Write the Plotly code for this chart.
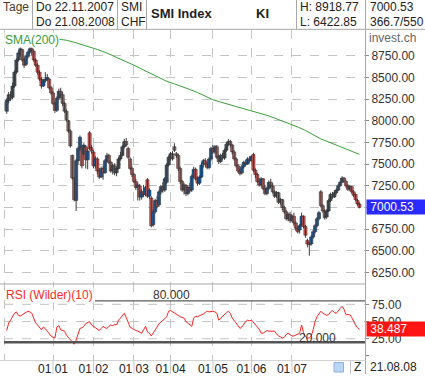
import plotly.graph_objects as go

W, H = 425, 376
def px(x): return x / W
def py(y): return 1 - y / H

# ---------------- data ----------------
opens = [8110,8230,8300,8270,8400,8560,8700,8780,8820,8700,
         8650,8740,8790,8830,8800,8700,8640,8560,8480,8400,
         8460,8480,8480,8380,8320,8200,8120,8260,8340,8300,
         8200,8110,8000,7880,7600,7340,7080,7540,7680,7700,
         7620,7700,7550,7860,7690,7640,7480,7560,7420,7350,
         7450,7400,7540,7600,7520,7420,7480,7400,7450,7560,
         7600,7700,7760,7680,7560,7450,7380,7300,7230,7250,
         7120,7180,7150,7320,7130,7110,6800,6950,7080,7030,
         7180,7240,7200,7290,7490,7580,7620,7700,7620,7600,
         7450,7300,7200,7250,7160,7230,7200,7360,7440,7330,
         7280,7350,7500,7540,7500,7460,7560,7680,7640,7700,
         7580,7530,7600,7570,7660,7730,7760,7720,7640,7560,
         7480,7420,7400,7470,7520,7500,7560,7540,7610,7430,
         7380,7300,7260,7330,7220,7160,7220,7290,7250,7180,
         7130,7170,7060,7090,7000,6950,6870,6920,6850,6900,
         6820,6760,6740,6790,6900,6780,6620,6590,6580,6660,
         6720,6790,6870,7180,7020,6960,6890,6960,7080,7150,
         7120,7170,7200,7250,7290,7340,7300,7250,7210,7240,
         7180,7150,7080,7040]
highs = [8260,8330,8340,8440,8580,8720,8810,8850,8830,8720,
         8760,8810,8870,8860,8820,8720,8660,8580,8500,8480,
         8560,8540,8490,8400,8340,8220,8280,8370,8380,8330,
         8220,8130,8010,7900,7610,7350,7560,7700,7830,7720,
         7740,7720,7680,7880,7720,7660,7590,7580,7450,7470,
         7480,7560,7630,7620,7540,7500,7510,7470,7580,7640,
         7720,7790,7800,7700,7580,7470,7400,7330,7290,7270,
         7210,7260,7250,7340,7220,7130,6980,7100,7130,7200,
         7260,7290,7350,7510,7600,7640,7650,7740,7640,7620,
         7470,7320,7280,7270,7260,7280,7380,7470,7460,7360,
         7370,7520,7560,7570,7520,7580,7700,7720,7720,7720,
         7610,7620,7630,7680,7750,7790,7780,7730,7660,7580,
         7500,7450,7490,7540,7550,7580,7590,7600,7630,7450,
         7400,7340,7350,7340,7260,7240,7310,7330,7280,7200,
         7190,7180,7110,7100,7020,6970,6940,6950,6920,6940,
         6840,6790,6810,6940,6910,6800,6640,6600,6680,6740,
         6810,6890,6960,7200,7040,6980,6980,7100,7170,7180,
         7200,7220,7270,7310,7360,7350,7320,7270,7260,7250,
         7200,7160,7100,7060]
lows = [8080,8200,8230,8250,8380,8540,8680,8740,8680,8610,
        8630,8720,8770,8750,8680,8620,8530,8460,8370,8390,
        8440,8460,8360,8300,8180,8090,8100,8240,8260,8170,
        8090,7990,7860,7690,7320,7070,6960,7500,7650,7450,
        7600,7450,7440,7660,7620,7450,7450,7380,7330,7340,
        7320,7390,7520,7500,7400,7380,7370,7360,7440,7540,
        7590,7680,7700,7560,7430,7350,7280,7200,7080,7080,
        7090,7120,7130,7110,7100,6770,6780,6930,6990,7010,
        7150,7170,7180,7270,7470,7540,7540,7640,7570,7420,
        7270,7180,7150,7130,7140,7170,7180,7340,7310,7250,
        7260,7340,7460,7470,7440,7440,7540,7620,7620,7560,
        7500,7510,7550,7550,7640,7710,7690,7610,7540,7460,
        7400,7370,7380,7450,7480,7490,7520,7530,7410,7340,
        7280,7240,7240,7200,7140,7140,7200,7230,7160,7110,
        7110,7040,7030,6970,6930,6850,6840,6820,6830,6790,
        6730,6700,6700,6780,6760,6650,6540,6445,6560,6640,
        6700,6770,6850,7000,6940,6860,6870,6950,7060,7100,
        7110,7150,7190,7240,7280,7290,7230,7190,7190,7160,
        7120,7070,7020,6990]
closes = [8235,8300,8260,8400,8560,8700,8780,8830,8700,8640,
          8740,8790,8830,8810,8700,8640,8560,8480,8400,8460,
          8480,8500,8380,8320,8200,8120,8260,8340,8300,8200,
          8110,8010,7880,7710,7340,7090,7540,7680,7810,7480,
          7720,7550,7650,7680,7650,7480,7560,7420,7350,7450,
          7400,7540,7600,7520,7420,7480,7400,7450,7560,7600,
          7700,7760,7720,7580,7450,7380,7300,7230,7260,7120,
          7180,7150,7230,7130,7200,6790,6950,7080,7010,7180,
          7240,7200,7330,7490,7580,7620,7560,7660,7600,7450,
          7300,7200,7260,7160,7230,7190,7360,7440,7330,7280,
          7350,7490,7540,7500,7460,7560,7680,7640,7700,7580,
          7530,7600,7570,7660,7730,7760,7720,7640,7560,7480,
          7420,7390,7470,7520,7500,7560,7540,7590,7430,7380,
          7300,7260,7330,7220,7160,7220,7290,7250,7180,7130,
          7170,7060,7090,7000,6950,6870,6920,6850,6900,6820,
          6760,6720,6790,6900,6780,6680,6580,6570,6660,6720,
          6790,6870,6940,7020,6960,6880,6960,7080,7150,7120,
          7170,7200,7250,7290,7340,7310,7250,7210,7240,7180,
          7140,7090,7040,7000.53]
rsi = [37,48,52,57,62,64,59,58,60,62,
       64,65,64,62,55,48,45,42,38,42,
       40,36,32,29,27,26,42,44,38,37,
       36,30,27,23,20,17,23,33,40,41,
       43,47,49,50,45,43,41,39,37,40,
       43,41,40,43,45,44,46,45,52,55,
       59,62,56,49,42,40,38,37,36,34,
       33,38,43,35,33,29,33,37,42,47,
       49,52,54,57,65,66,64,62,61,58,
       57,56,55,50,48,45,43,55,58,57,
       58,60,61,63,65,64,65,65,64,62,
       52,55,57,60,63,65,62,55,52,48,
       44,40,42,46,50,52,51,52,49,46,
       42,39,33,33,35,37,36,36,37,36,
       32,29,28,26,27,31,33,31,29,29,
       30,32,33,45,34,28,26,26,29,38,
       50,57,61,65,62,60,59,60,64,66,
       63,62,66,69,72,68,60,60,60,56,
       50,45,41,38.487]
sma_idx = [27,31,35,39,43,47,51,55,59,63,67,71,75,79,83,87,91,95,99,103,
           107,111,115,119,123,127,131,135,139,143,147,151,155,159,163,167,171,175,179,183]
sma_vals = [8940,8928,8905,8880,8852,8822,8790,8750,8715,8675,8630,8585,8540,8495,8455,
            8425,8395,8360,8325,8285,8242,8215,8190,8160,8135,8108,8085,8062,8030,7998,
            7965,7928,7888,7840,7790,7755,7720,7690,7655,7612]
month_idx = [24, 45, 66, 85, 107, 127, 148]
month_labels = ["01 01", "01 02", "01 03", "01 04", "01 05", "01 06", "01 07"]
price_ticks = [6250, 6500, 6750, 7000, 7250, 7500, 7750, 8000, 8250, 8500, 8750]
rsi_ticks = [0, 25, 50, 75]
rsi_tick_labels = ["", "25.00", "50.00", "75.00"]

days = list(range(len(closes)))
FONT = "Liberation Sans, Arial, sans-serif"
GRID = "#c4c4c4"
BORDER = "#a8a8a8"
UP = "#1c62aa"
DOWN = "#d65f5c"

# candle parts derived from OHLC lists
wick_x, wick_y = [], []
for d, h, l in zip(days, highs, lows):
    wick_x += [d, d, None]
    wick_y += [l, h, None]
body_base = [min(o, c) for o, c in zip(opens, closes)]
body_len = [max(abs(c - o), 6) for o, c in zip(opens, closes)]
body_col = [UP if c >= o else DOWN for o, c in zip(opens, closes)]

fig = go.Figure()
fig.add_trace(go.Scatter(x=wick_x, y=wick_y, mode="lines", line=dict(color="#3a3a3a", width=1),
                         xaxis="x", yaxis="y", showlegend=False, hoverinfo="skip"))
fig.add_trace(go.Bar(x=days, y=body_len, base=body_base, width=1.65,
                     marker=dict(color=body_col, line=dict(color="#1a1a1a", width=0.5)),
                     xaxis="x", yaxis="y", showlegend=False, hoverinfo="skip"))
fig.add_trace(go.Scatter(x=sma_idx, y=sma_vals, mode="lines",
                         line=dict(color="#3aa03a", width=1), xaxis="x", yaxis="y",
                         showlegend=False, hoverinfo="skip"))
fig.add_trace(go.Scatter(x=days, y=rsi, mode="lines",
                         line=dict(color="#ff2020", width=1), xaxis="x2", yaxis="y2",
                         showlegend=False, hoverinfo="skip"))

xdom = [px(4), px(365)]
xr = [-1.43, 185.9]
shapes = []
def line(x0, y0, x1, y1, color=BORDER, width=1, dash="solid", xref="paper", yref="paper", layer="above"):
    shapes.append(dict(type="line", x0=x0, y0=y0, x1=x1, y1=y1, xref=xref, yref=yref,
                       line=dict(color=color, width=width, dash=dash), layer=layer))

# header grid
line(0, py(29.5), 1, py(29.5))
for xv in [32.5, 117.5, 146.5, 296.5, 365.5]:
    line(px(xv), py(0), px(xv), py(29.5))
# right axis line
line(px(365.5), py(29.5), px(365.5), 0)
# panel separator
line(0, py(285.5), px(365.5), py(285.5))
# label row separator
line(0, py(362.5), px(365.5), py(362.5), color="#d0d0d0")
# left dashed border
line(px(4.5), py(30), px(4.5), py(362), color=GRID, dash="dash", layer="below")
# month lines through label row
for m in month_idx:
    line(m, py(362), m, 0, color="#c8c8c8", xref="x", layer="above")
# RSI gridlines
for v in [25, 50, 75]:
    line(xdom[0], v, xdom[1], v, color=GRID, dash="dash", yref="y2", layer="below")
# 80 and 20 lines
line(px(95), 80, xdom[1], 80, color="#333333", width=1, yref="y2")
line(xdom[0], 20, xdom[1], 20, color="#555555", width=2.5, yref="y2")
# bottom widgets
shapes.append(dict(type="rect", x0=px(334), x1=px(343.5), y0=py(374), y1=py(364.5),
                   xref="paper", yref="paper", fillcolor="#b8d6f6",
                   line=dict(color="#8fb0d8", width=1)))
line(px(350.5), py(362.5), px(350.5), 0, color="#c0c0c0")

ann = []
def text(x, y, s, size=12, color="#222222", bold=False, xanchor="left", bg=None, width=None, height=None):
    d = dict(x=px(x), y=py(y), xref="paper", yref="paper", text=f"<b>{s}</b>" if bold else s,
             showarrow=False, xanchor=xanchor, yanchor="middle",
             font=dict(family=FONT, size=size, color=color), borderpad=0)
    if bg:
        d["bgcolor"] = bg
    if width:
        d["width"] = width
        d["align"] = "left"
    if height:
        d["height"] = height
    ann.append(d)

text(1.5, 7.5, "Tage", color="#4a3a2a")
text(34.5, 7.5, "Do 22.11.2007")
text(34.5, 22, "Do 21.08.2008")
text(119.5, 7.5, "SMI")
text(119.5, 22, "CHF")
text(150, 14, "SMI Index", size=13, bold=True)
text(255, 14, "KI", size=13, bold=True)
text(299, 7.5, "H: 8918.77")
text(299, 22, "L: 6422.85")
text(368.5, 7.5, "7000.53")
text(368.5, 22, "366.7/550")
text(367.5, 38, "invest.ch", color="#666666")
text(4, 40, "SMA(200)", color="#3a9a3a", bg="white")
text(5, 297, "RSI (Wilder)(10)", color="#ff2a2a", bg="white")
text(152, 297, "80.000", color="#333333")
text(298, 339.5, "20.000", color="#333333")
text(365.5, 208, " 7000.53", color="white", bg="#2a2aff", width=60, height=14)
text(365.5, 331, " 38.487", color="white", bg="#ff1414", width=60, height=14)
text(352.5, 369, "Z", color="#222222")
text(368.5, 369, "21.08.08", color="#222222")

fig.update_layout(
    width=W, height=H, margin=dict(l=0, r=0, t=0, b=0),
    paper_bgcolor="white", plot_bgcolor="white", showlegend=False,
    barmode="overlay",
    font=dict(family=FONT, size=12, color="#333333"),
    xaxis=dict(domain=xdom, range=xr, anchor="y", showticklabels=False,
               tickvals=month_idx, showgrid=True, gridcolor=GRID, griddash="dash",
               zeroline=False, showline=False, ticks=""),
    xaxis2=dict(domain=xdom, range=xr, anchor="y2", matches="x",
                tickvals=month_idx, ticktext=month_labels, showgrid=True, gridcolor=GRID,
                griddash="dash", zeroline=False, showline=False, ticks="",
                tickfont=dict(family=FONT, size=12, color="#222222")),
    yaxis=dict(domain=[py(285), py(30)], range=[6123.4, 9048], anchor="x", side="right",
               tickvals=price_ticks, tickformat=".2f", ticks="outside", ticklen=3,
               tickcolor="#888888", showgrid=True, gridcolor=GRID, griddash="dash",
               zeroline=False, showline=False,
               tickfont=dict(family=FONT, size=12, color="#333333")),
    yaxis2=dict(domain=[py(362), py(285)], range=[-6.0, 105.3], anchor="x2", side="right",
                tickvals=rsi_ticks, ticktext=rsi_tick_labels, ticks="outside", ticklen=3,
                tickcolor="#888888", showgrid=False, zeroline=False, showline=False,
                tickfont=dict(family=FONT, size=12, color="#333333")),
    shapes=shapes, annotations=ann,
)
fig.write_html("out.html", config={"displayModeBar": False},
               post_script="document.body.style.margin='0';document.body.style.padding='0';"
                           "document.documentElement.style.overflow='hidden';")
